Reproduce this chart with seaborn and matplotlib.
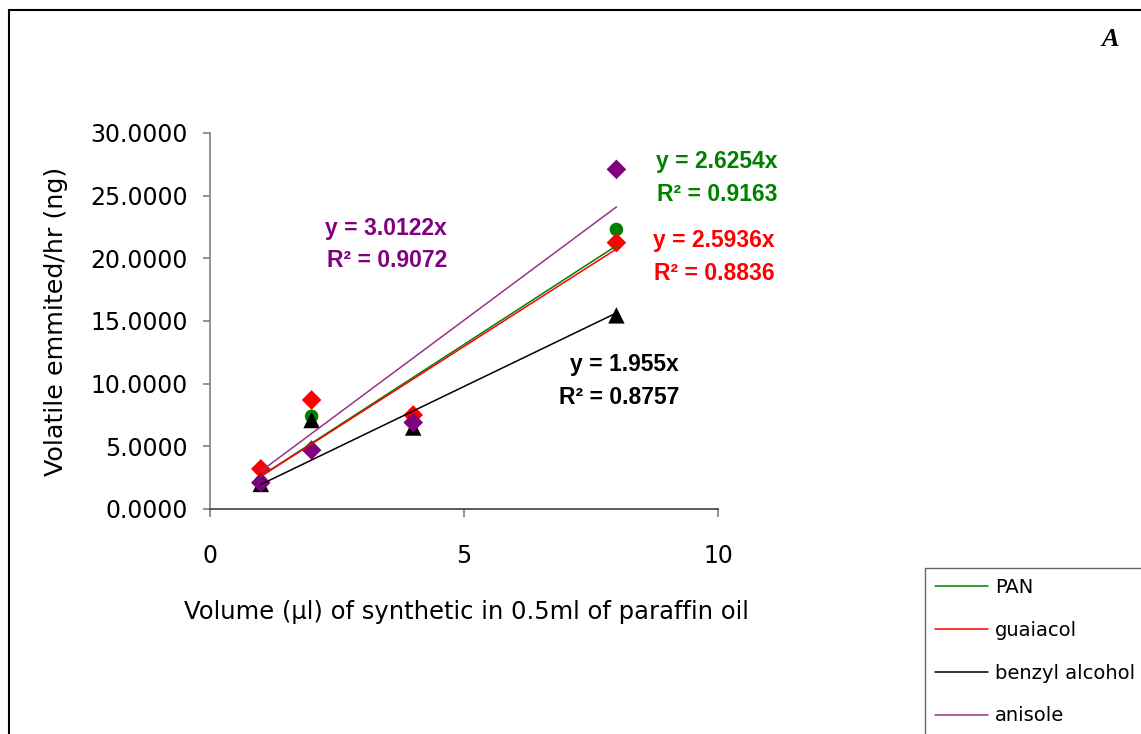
import matplotlib
matplotlib.use("Agg")
import matplotlib.pyplot as plt
from matplotlib.patches import Rectangle
from matplotlib.ticker import FormatStrFormatter
import seaborn as sns
import pandas as pd

# Volume of synthetic compound added (µl in 0.5 ml paraffin oil)
volume = [1, 2, 4, 8]

# Volatile emitted per hour (ng) for each compound
pan = [2.15, 7.4, 7.0, 22.3]
guaiacol = [3.2, 8.7, 7.5, 21.25]
benzyl_alcohol = [2.0, 7.1, 6.5, 15.45]
anisole = [2.1, 4.7, 6.9, 27.1]

series_names = ["PAN", "guaiacol", "benzyl alcohol", "anisole"]

# Linear trendlines forced through the origin
slopes = [2.6254, 2.5936, 1.955, 3.0122]
r_squared = ["0.9163", "0.8836", "0.8757", "0.9072"]
slope_text = ["2.6254", "2.5936", "1.955", "3.0122"]
trend_x = [1, 8]

marker_colors = {"PAN": "#008000", "guaiacol": "#FF0000",
                 "benzyl alcohol": "#000000", "anisole": "#800080"}
line_colors = {"PAN": "#008000", "guaiacol": "#FF0000",
               "benzyl alcohol": "#000000", "anisole": "#993388"}
markers = {"PAN": "o", "guaiacol": "D", "benzyl alcohol": "^", "anisole": "D"}
marker_sizes = {"PAN": 95, "guaiacol": 100, "benzyl alcohol": 140, "anisole": 100}

points = pd.DataFrame({
    "volume": volume * 4,
    "emitted": pan + guaiacol + benzyl_alcohol + anisole,
    "compound": [n for n in series_names for _ in volume],
})
trend = pd.DataFrame({
    "volume": trend_x * 4,
    "emitted": [s * x for s in slopes for x in trend_x],
    "compound": [n for n in series_names for _ in trend_x],
})

sns.set_style("white")
plt.rcParams["font.family"] = ["DejaVu Sans"]
plt.rcParams["text.color"] = "black"
plt.rcParams["axes.labelcolor"] = "black"
plt.rcParams["xtick.labelcolor"] = "black"
plt.rcParams["ytick.labelcolor"] = "black"

W, H = 1141, 734
fig = plt.figure(figsize=(W / 100, H / 100), dpi=100)
ax = fig.add_axes([210 / W, 1 - 509 / H, 508 / W, 376 / H])

sns.scatterplot(data=points, x="volume", y="emitted", hue="compound",
                style="compound", size="compound", hue_order=series_names,
                style_order=series_names, size_order=series_names,
                palette=marker_colors, markers=markers, sizes=marker_sizes,
                linewidth=0, legend=False, ax=ax, zorder=3)
sns.lineplot(data=trend, x="volume", y="emitted", hue="compound",
             hue_order=series_names, palette=line_colors, linewidth=1.1,
             ax=ax, zorder=4)

ax.set_xlim(0, 10)
ax.set_ylim(0, 30)
ax.set_xticks([0, 5, 10])
ax.set_yticks([0, 5, 10, 15, 20, 25, 30])
ax.yaxis.set_major_formatter(FormatStrFormatter("%.4f"))

for side in ["top", "right"]:
    ax.spines[side].set_visible(False)
ax.spines["left"].set_color("#808080")
ax.spines["bottom"].set_color("#404040")
ax.spines["left"].set_linewidth(1.2)
ax.spines["bottom"].set_linewidth(1.2)
ax.tick_params(axis="y", direction="out", length=5, width=1.2, color="#808080",
               labelcolor="black", labelsize=17, pad=11, left=True)
ax.tick_params(axis="x", direction="out", length=6, width=1.2, color="#808080",
               labelcolor="black", labelsize=17, pad=19, bottom=True)

ax.set_xlabel("Volume (µl) of synthetic in 0.5ml of paraffin oil",
              fontsize=17.5, color="black")
ax.set_ylabel("Volatile emmited/hr (ng)", fontsize=18.3, color="black")
ax.xaxis.set_label_coords(0.504, -0.242)
ax.yaxis.set_label_coords(-0.279, 0.5)

# Trendline equations
label_pos = {"PAN": (11.18, 26.4), "guaiacol": (11.12, 20.1),
             "benzyl alcohol": (9.23, 10.2), "anisole": (4.67, 21.1)}
for name, sl, r2 in zip(series_names, slope_text, r_squared):
    x, y = label_pos[name]
    ax.text(x, y, f"y = {sl}x\nR² = {r2}", ha="right", va="center",
            multialignment="right", linespacing=1.55,
            color=marker_colors[name], fontsize=16.5, fontweight="bold",
            family=["Liberation Sans", "DejaVu Sans"], clip_on=False)

# Legend built from the trendlines
handles, labels = ax.get_legend_handles_labels()
if ax.get_legend() is not None:
    ax.get_legend().remove()
leg = fig.legend(handles, labels, loc="upper left",
                 bbox_to_anchor=(925 / W, 1 - 568 / H), fontsize=14,
                 frameon=True, fancybox=False, handlelength=2.73,
                 handletextpad=0.36, labelspacing=1.23, borderpad=0.5,
                 borderaxespad=0, labelcolor="black")
leg.get_frame().set_edgecolor("#404040")
leg.get_frame().set_linewidth(1.0)
for line in leg.get_lines():
    line.set_linewidth(1.1)

fig.text(1110 / W, 1 - 40 / H, "A", ha="center", va="center", fontsize=19,
         fontweight="bold", fontstyle="italic", family=["Liberation Serif"])

# Outer frame
fig.add_artist(Rectangle((9 / W, -0.1), 1.2, 1 - 10 / H + 0.1, fill=False,
                         edgecolor="black", linewidth=1.5,
                         transform=fig.transFigure))

fig.savefig("out.png", dpi=100)
